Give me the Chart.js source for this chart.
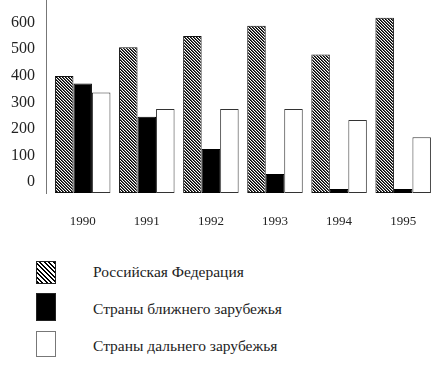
<!DOCTYPE html>
<html lang="ru">
<head>
<meta charset="UTF-8">
<title>Экспорт</title>
<script src="https://cdn.jsdelivr.net/npm/chart.js@4"></script>
<style>
  * { margin: 0; padding: 0; box-sizing: border-box; }
  body { width: 431px; height: 369px; overflow: hidden; background: #fff; font-family: "Liberation Serif", serif; color: #222; position: relative; }
  #chart { position: absolute; left: 0; top: 0; }
  .legend-box { position: absolute; left: 36px; width: 20px; border: 1px solid #222; }
  .legend-text { position: absolute; left: 93px; font-size: 15.5px; white-space: nowrap; transform: translateY(-50%); }
  .hatch { background: repeating-linear-gradient(45deg, #000 0 1.6px, #fff 1.6px 3.2px); }
</style>
</head>
<body>
<canvas id="chart" width="431" height="230"></canvas>
<div id="legend"></div>

<script>
const years = ['1990', '1991', '1992', '1993', '1994', '1995'];
const seriesNames = ['Российская Федерация', 'Страны ближнего зарубежья', 'Страны дальнего зарубежья'];
const russia = [441, 549, 591, 630, 522, 660];
const nearAbroad = [412, 287, 166, 72, 15, 15];
const farAbroad = [379, 316, 316, 316, 275, 210];
const yTicks = [0, 100, 200, 300, 400, 500, 600];

// fine diagonal hatch for the first series
function hatchPattern() {
  const c = document.createElement('canvas');
  c.width = 3; c.height = 3;
  const g = c.getContext('2d');
  const shades = ['#000', '#555', '#fff'];
  for (let x = 0; x < 3; x++) {
    for (let y = 0; y < 3; y++) {
      g.fillStyle = shades[((x - y) % 3 + 3) % 3];
      g.fillRect(x, y, 1, 1);
    }
  }
  return g.createPattern(c, 'repeat');
}

const toPoints = arr => arr.map((v, i) => ({ x: i, y: v }));

const serif = '"Liberation Serif", serif';

new Chart(document.getElementById('chart'), {
  type: 'bar',
  data: {
    datasets: [
      { label: seriesNames[0], data: toPoints(russia), backgroundColor: hatchPattern(), borderColor: '#111', borderWidth: 1, borderSkipped: false },
      { label: seriesNames[1], data: toPoints(nearAbroad), backgroundColor: '#000', borderColor: '#000', borderWidth: 1, borderSkipped: false },
      { label: seriesNames[2], data: toPoints(farAbroad), backgroundColor: '#fff', borderColor: '#333', borderWidth: 1, borderSkipped: false },
    ]
  },
  options: {
    responsive: false,
    animation: false,
    categoryPercentage: 0.866,
    barPercentage: 1,
    layout: { padding: 0 },
    plugins: { legend: { display: false }, tooltip: { enabled: false } },
    scales: {
      x: {
        type: 'linear',
        offset: false,
        min: -0.5725,
        max: 5.434,
        grid: { display: false },
        border: { display: false },
        afterBuildTicks: s => { s.ticks = years.map((_, i) => ({ value: i })); },
        afterFit: s => { s.height = 37; s.paddingLeft = 0; s.paddingRight = 0; },
        ticks: {
          maxRotation: 0,
          autoSkip: false,
          padding: 13,
          color: '#222',
          font: { family: serif, size: 13 },
          callback: v => years[v] ?? ''
        }
      },
      y: {
        min: 0,
        max: 727,
        grid: { display: false, drawTicks: false },
        border: { display: true, color: '#777', width: 1 },
        afterBuildTicks: s => { s.ticks = yTicks.map(v => ({ value: v })); },
        afterFit: s => { s.width = 46; s.paddingTop = 0; s.paddingBottom = 0; },
        ticks: {
          padding: 11,
          labelOffset: -11,
          color: '#222',
          font: { family: serif, size: 16 }
        }
      }
    }
  }
});

// legend, one item per row
const legendRows = [
  { top: 261, h: 23, cls: 'hatch', mid: 272 },
  { top: 293, h: 28, cls: '', bg: '#000', mid: 309 },
  { top: 331, h: 26, cls: '', bg: '#fff', mid: 346 },
];
const legend = document.getElementById('legend');
seriesNames.forEach((name, i) => {
  const r = legendRows[i];
  const box = document.createElement('div');
  box.className = 'legend-box ' + r.cls;
  box.style.cssText = 'top:' + r.top + 'px;height:' + r.h + 'px;' + (r.bg ? 'background:' + r.bg + ';' : '') + (i === 2 ? 'border-color:#777;' : '');
  legend.appendChild(box);
  const txt = document.createElement('div');
  txt.className = 'legend-text';
  txt.style.top = r.mid + 'px';
  txt.textContent = name;
  legend.appendChild(txt);
});
</script>
</body>
</html>
